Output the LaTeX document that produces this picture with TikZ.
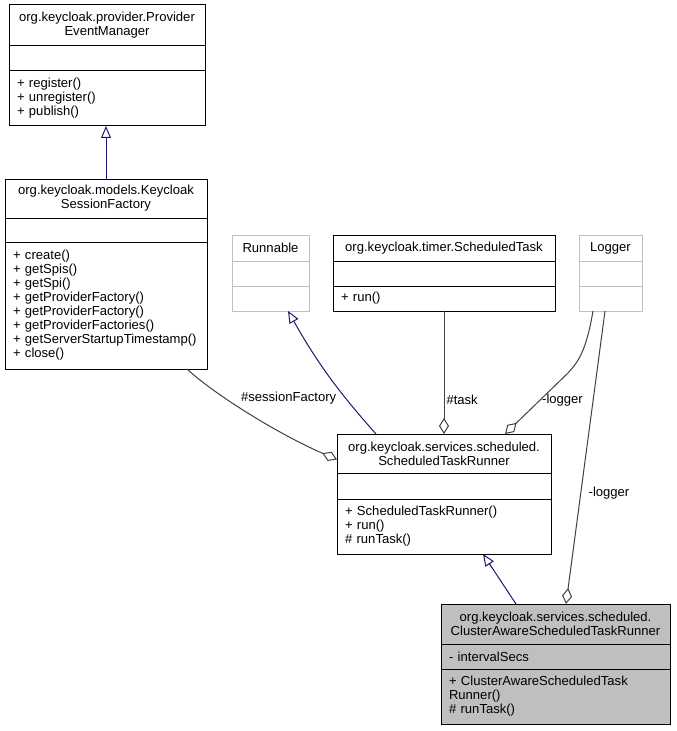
\documentclass[tikz,border=0pt]{standalone}
\usepackage{fontspec}
\setmainfont{Liberation Sans}
\usepackage{tikz}
\usetikzlibrary{arrows.meta,calc,positioning}
\definecolor{navy}{RGB}{25,25,112}
\definecolor{edgegray}{RGB}{64,64,64}
\definecolor{boxgray}{RGB}{191,191,191}
\tikzset{
  sec/.style={draw=black, line width=0.75pt, anchor=north west, inner xsep=6pt, inner ysep=0pt, outer sep=0pt, align=left},
  head/.style={sec, align=center},
  ghost/.style={draw=boxgray},
  cur/.style={fill=boxgray},
  lbl/.style={inner sep=1.5pt},
  inh/.style={draw=navy, line width=0.75pt, -{Triangle[open, length=9pt, width=7.5pt]}},
  agg/.style={draw=edgegray, line width=0.75pt, -{Diamond[open, length=12pt, width=7.5pt]}}
}
\begin{document}
\begin{tikzpicture}[x=0.75pt,y=-0.75pt]
	\tikzstyle{every node}+=[font=\fontsize{9.8}{10.5}\selectfont]
	\useasboundingbox (0,0) rectangle (676,731);
	% provider.ProviderEventManager
	\node[head, minimum width=147pt, text width=135pt, minimum height=30.75pt] (pemT) at (9,5) {org.keycloak.provider.Provider\\EventManager};
	\node[sec, minimum width=147pt, text width=135pt, minimum height=18.75pt] (pemA) at (pemT.south west) {};
	\node[sec, minimum width=147pt, text width=135pt, minimum height=41.25pt] (pemM) at (pemA.south west) {+ register()\\+ unregister()\\+ publish()};
	% models.KeycloakSessionFactory
	\node[head, minimum width=151.5pt, text width=139.5pt, minimum height=29.25pt] (ksfT) at (5,179) {org.keycloak.models.Keycloak\\SessionFactory};
	\node[sec, minimum width=151.5pt, text width=139.5pt, minimum height=18pt] (ksfA) at (ksfT.south west) {};
	\node[sec, minimum width=151.5pt, text width=139.5pt, minimum height=95.25pt] (ksfM) at (ksfA.south west) {+ create()\\+ getSpis()\\+ getSpi()\\+ getProviderFactory()\\+ getProviderFactory()\\+ getProviderFactories()\\+ getServerStartupTimestamp()\\+ close()};
	% Runnable
	\node[head, ghost, minimum width=57.75pt, text width=45.75pt, minimum height=19.5pt] (runT) at (232,235) {Runnable};
	\node[sec, ghost, minimum width=57.75pt, text width=45.75pt, minimum height=18.75pt] (runA) at (runT.south west) {};
	\node[sec, ghost, minimum width=57.75pt, text width=45.75pt, minimum height=18.75pt] (runM) at (runA.south west) {};
	% timer.ScheduledTask
	\node[head, minimum width=166.5pt, text width=154.5pt, minimum height=19.5pt] (stT) at (333,235) {org.keycloak.timer.ScheduledTask};
	\node[sec, minimum width=166.5pt, text width=154.5pt, minimum height=18.75pt] (stA) at (stT.south west) {};
	\node[sec, minimum width=166.5pt, text width=154.5pt, minimum height=18.75pt] (stM) at (stA.south west) {+ run()};
	% Logger
	\node[head, ghost, minimum width=47.25pt, text width=35.25pt, minimum height=19.5pt] (logT) at (579,235) {Logger};
	\node[sec, ghost, minimum width=47.25pt, text width=35.25pt, minimum height=18.75pt] (logA) at (logT.south west) {};
	\node[sec, ghost, minimum width=47.25pt, text width=35.25pt, minimum height=18.75pt] (logM) at (logA.south west) {};
	% services.scheduled.ScheduledTaskRunner
	\node[head, minimum width=160.5pt, text width=148.5pt, minimum height=29.25pt] (strT) at (337,434) {org.keycloak.services.scheduled.\\ScheduledTaskRunner};
	\node[sec, minimum width=160.5pt, text width=148.5pt, minimum height=19.5pt] (strA) at (strT.south west) {};
	\node[sec, minimum width=160.5pt, text width=148.5pt, minimum height=41.25pt] (strM) at (strA.south west) {+ ScheduledTaskRunner()\\+ run()\\\# runTask()};
	% services.scheduled.ClusterAwareScheduledTaskRunner
	\node[head, cur, minimum width=171.75pt, text width=159.75pt, minimum height=30pt] (caT) at (441,604) {org.keycloak.services.scheduled.\\ClusterAwareScheduledTaskRunner};
	\node[sec, cur, minimum width=171.75pt, text width=159.75pt, minimum height=18.75pt] (caA) at (caT.south west) {- intervalSecs};
	\node[sec, cur, minimum width=171.75pt, text width=159.75pt, minimum height=41.25pt] (caM) at (caA.south west) {+ ClusterAwareScheduledTask\\Runner()\\\# runTask()};
	% connectors
	\draw[inh] (ksfT.north) -- (ksfT.north |- pemM.south);
	\draw[inh] ($(strT.north west)+(39,0)$) to[bend left=6] ($(runM.south west)+(56,0)$);
	\draw[inh] ($(caT.north west)+(75,0)$) -- ($(strM.south west)+(146,0)$);
	\draw[agg] ($(ksfM.south west)+(182,0)$) .. controls (215,395) and (280,435) .. node[lbl, pos=0.42, anchor=south west] {\#sessionFactory} ($(strT.west)+(0,6)$);
	\draw[agg] (stM.south) -- node[lbl, pos=0.72, right] {\#task} (strT.north);
	\draw[agg] ($(logM.south west)+(14,0)$) .. controls (586,352) and (578,362) .. (568,373) -- node[lbl, pos=0.45, right] {-logger} ($(strT.north west)+(168,0)$);
	\draw[agg] ($(logM.south west)+(26,0)$) -- node[lbl, pos=0.62, right=4pt] {-logger} ($(caT.north west)+(125,0)$);
\end{tikzpicture}
\end{document}
